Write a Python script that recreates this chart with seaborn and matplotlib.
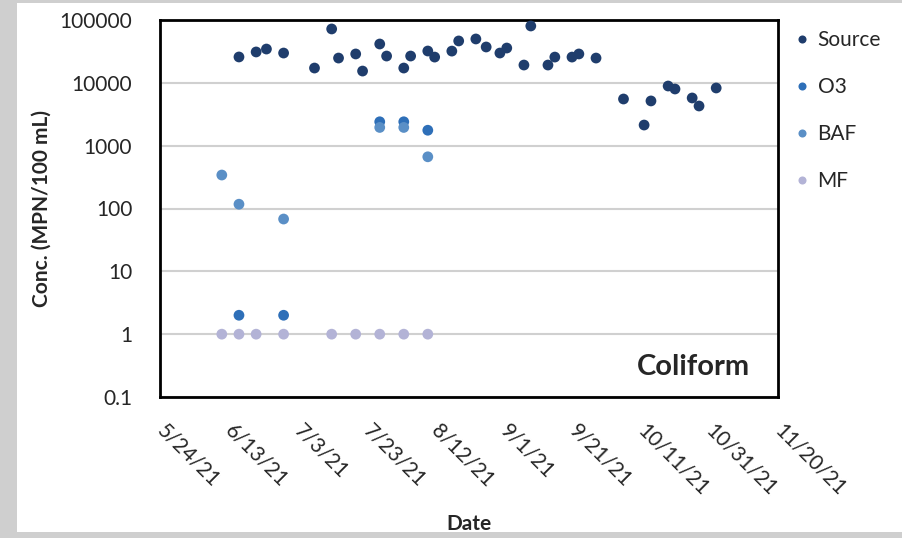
import pandas as pd
import matplotlib
matplotlib.use("Agg")
import matplotlib.pyplot as plt
from matplotlib.patches import Rectangle
import seaborn as sns

# data
source_dates = ["2021-06-16", "2021-06-21", "2021-06-24", "2021-06-29", "2021-07-08",
                "2021-07-13", "2021-07-15", "2021-07-20", "2021-07-22", "2021-07-27",
                "2021-07-29", "2021-08-03", "2021-08-05", "2021-08-10", "2021-08-12",
                "2021-08-17", "2021-08-19", "2021-08-24", "2021-08-27", "2021-08-31",
                "2021-09-02", "2021-09-07", "2021-09-09", "2021-09-14", "2021-09-16",
                "2021-09-21", "2021-09-23", "2021-09-28", "2021-10-06", "2021-10-12",
                "2021-10-14", "2021-10-19", "2021-10-21", "2021-10-26", "2021-10-28",
                "2021-11-02"]
source_vals = [25800, 31000, 34500, 29800, 17200,
               72000, 24800, 28800, 15400, 41500,
               26700, 17200, 26700, 32100, 25700,
               32000, 46400, 49900, 37200, 29800,
               35800, 19200, 80300, 19200, 25700,
               25700, 28800, 24800, 5530, 2130,
               5150, 8900, 7980, 5740, 4280,
               8280]

o3_dates = ["2021-06-16", "2021-06-29", "2021-07-27", "2021-08-03", "2021-08-10"]
o3_vals = [2, 2, 2400, 2400, 1760]

baf_dates = ["2021-06-11", "2021-06-16", "2021-06-29", "2021-07-27", "2021-08-03", "2021-08-10"]
baf_vals = [341, 117, 68, 1950, 1950, 665]

mf_dates = ["2021-06-11", "2021-06-16", "2021-06-21", "2021-06-29", "2021-07-13",
            "2021-07-20", "2021-07-27", "2021-08-03", "2021-08-10"]
mf_vals = [1, 1, 1, 1, 1, 1, 1, 1, 1]

series = ["Source", "O3", "BAF", "MF"]
colors = {"Source": "#1F3D6C", "O3": "#2E6FB8", "BAF": "#5A8FC6", "MF": "#B3B3D6"}

frames = []
for name, d, v in [("Source", source_dates, source_vals), ("O3", o3_dates, o3_vals),
                   ("BAF", baf_dates, baf_vals), ("MF", mf_dates, mf_vals)]:
    frames.append(pd.DataFrame({"date": pd.to_datetime(d), "conc": v, "series": name}))
df = pd.concat(frames, ignore_index=True)

sns.set_style("white")
plt.rcParams["font.family"] = ["Lato", "DejaVu Sans"]

fig = plt.figure(figsize=(9.02, 5.38), dpi=100)
fig.patch.set_facecolor("#cfcfcf")
fig.patches.append(Rectangle((17 / 902, 6 / 538), 1 - 17 / 902, 1 - 9 / 538,
                             transform=fig.transFigure, facecolor="white",
                             edgecolor="none", zorder=-10))
ax = fig.add_axes([160 / 902, 141 / 538, 618 / 902, 377 / 538])

sns.scatterplot(data=df, x="date", y="conc", hue="series", hue_order=series,
                palette=colors, s=60, edgecolor="none", ax=ax, zorder=3)

ax.set_yscale("log")
ax.set_ylim(0.1, 100000)
ax.set_yticks([0.1, 1, 10, 100, 1000, 10000, 100000])
ax.set_yticklabels(["0.1", "1", "10", "100", "1000", "10000", "100000"])
ax.yaxis.grid(True, color="#d0d0d0", linewidth=1.5)
ax.minorticks_off()

start = pd.Timestamp("2021-05-24")
ax.set_xlim(start, pd.Timestamp("2021-11-20"))
xt = pd.date_range(start, periods=10, freq="20D")
ax.set_xticks(xt)
ax.set_xticklabels([f"{d.month}/{d.day}/{d.strftime('%y')}" for d in xt],
                   rotation=-45, ha="left", va="center", rotation_mode="anchor")
ax.tick_params(axis="x", length=0, pad=22, labelsize=15)
ax.tick_params(axis="y", length=0, pad=20, labelsize=15)

for sp in ax.spines.values():
    sp.set_visible(True)
    sp.set_color("black")
    sp.set_linewidth(2)

ax.set_xlabel("Date", fontsize=15, fontweight="bold")
ax.xaxis.set_label_coords(0.5, -0.31)
ax.set_ylabel("Conc. (MPN/100 mL)", fontsize=15, fontweight="bold")
ax.yaxis.set_label_coords(-0.175, 0.5)

ax.text(0.955, 0.08, "Coliform", transform=ax.transAxes, ha="right", va="center",
        fontsize=21, fontweight="bold")

sns.move_legend(ax, "upper left", bbox_to_anchor=(1.0, 1.012), frameon=False,
                title=None, fontsize=15, labelspacing=1.3, handlelength=0.9,
                handletextpad=0.3, borderaxespad=0.3, markerscale=0.75)

fig.savefig("out.png", dpi=100, facecolor=fig.get_facecolor())
